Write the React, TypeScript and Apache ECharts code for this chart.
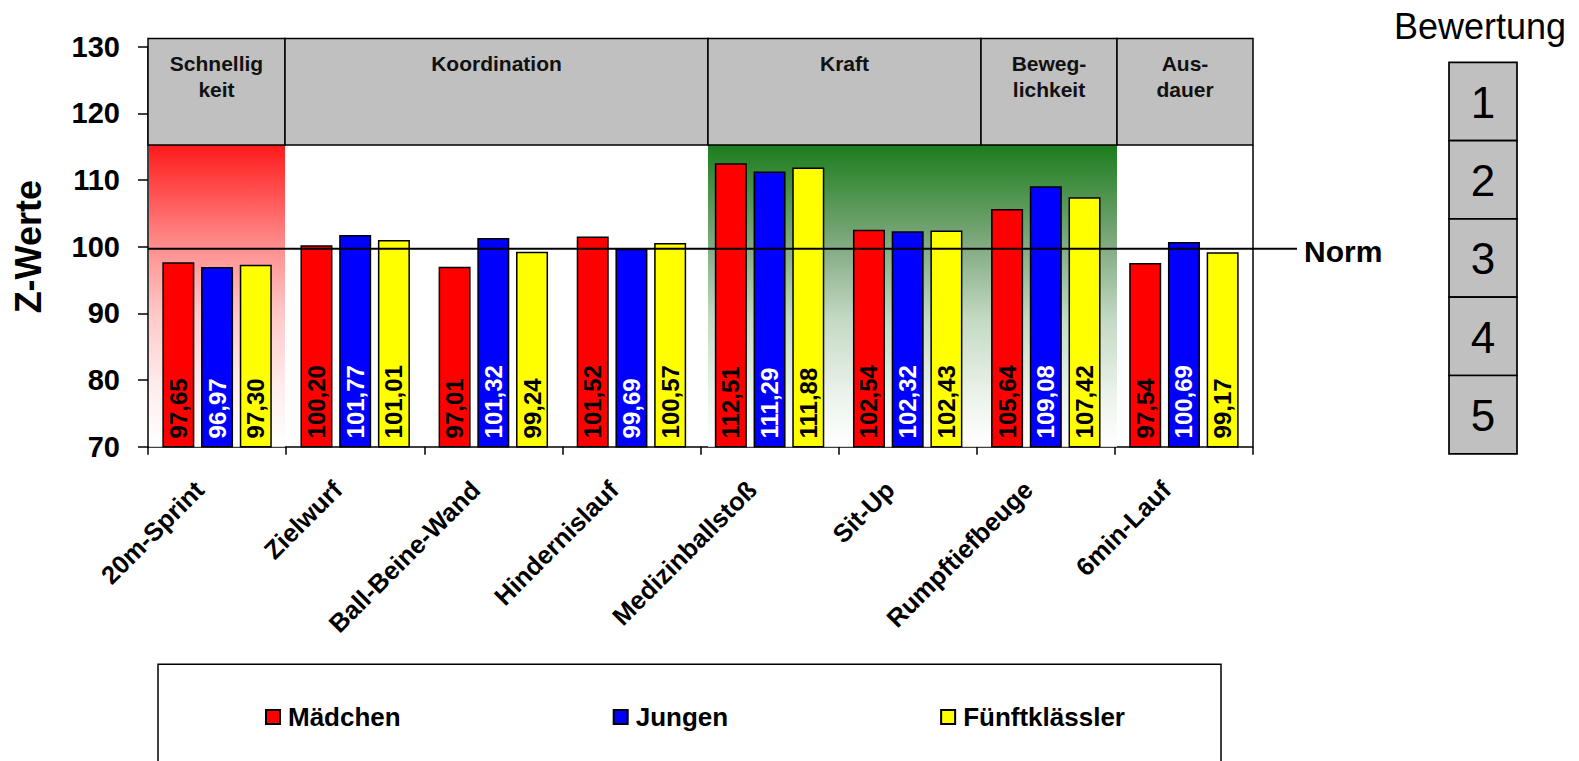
import React, { useEffect, useRef } from "react";
import * as echarts from "echarts";

const categories = [
  "20m-Sprint",
  "Zielwurf",
  "Ball-Beine-Wand",
  "Hindernislauf",
  "Medizinballstoß",
  "Sit-Up",
  "Rumpftiefbeuge",
  "6min-Lauf",
];
const seriesNames = ["Mädchen", "Jungen", "Fünftklässler"];
const maedchen = [97.65, 100.2, 97.01, 101.52, 112.51, 102.54, 105.64, 97.54];
const jungen = [96.97, 101.77, 101.32, 99.69, 111.29, 102.32, 109.08, 100.69];
const fuenftklaessler = [97.3, 101.01, 99.24, 100.57, 111.88, 102.43, 107.42, 99.17];
const yMin = 70;
const yMax = 130;
const yInterval = 10;
const normValue = 100;
const normLabel = "Norm";
const groupLabels = ["Schnellig\nkeit", "Koordination", "Kraft", "Beweg-\nlichkeit", "Aus-\ndauer"];
const bewertungTitle = "Bewertung";
const bewertungLevels = ["1", "2", "3", "4", "5"];

const FONT = "'Liberation Sans', Arial, Helvetica, sans-serif";
const barColors = ["#ff0000", "#0000ff", "#ffff00"];
const labelColors = ["#000000", "#ffffff", "#000000"];

// layout of the overlay (pixels)
const groupEdges = [148, 285, 708, 981, 1117, 1253];
const headerTop = 38.5;
const headerBottom = 145;

function fmt(v: number) {
  return v.toFixed(2).replace(".", ",");
}

export default function App() {
  const ref = useRef<HTMLDivElement>(null);
  useEffect(() => {
    if (!ref.current) return;
    const chart = echarts.init(ref.current, undefined, { renderer: "svg" });
    const data = [maedchen, jungen, fuenftklaessler];
    const option: any = {
      animation: false,
      backgroundColor: "#ffffff",
      textStyle: { fontFamily: FONT },
      grid: { left: 148, top: 46.7, width: 1105, height: 400, containLabel: false },
      legend: {
        data: seriesNames,
        left: 265,
        top: 702,
        padding: 0,
        itemWidth: 14,
        itemHeight: 14,
        itemGap: 212,
        icon: "rect",
        textStyle: { fontFamily: FONT, fontSize: 26, fontWeight: "bold", color: "#000", lineHeight: 30, padding: [0, 0, 0, 3] },
      },
      xAxis: {
        type: "category",
        data: categories,
        axisLine: { lineStyle: { color: "#000", width: 1.5 } },
        axisTick: { show: true, length: 8, lineStyle: { color: "#000", width: 1.5 } },
        axisLabel: {
          interval: 0,
          rotate: 45,
          margin: 21,
          padding: [0, 25, 0, 0],
          fontFamily: FONT,
          fontSize: 25.5,
          fontWeight: "bold",
          color: "#000",
        },
        splitLine: { show: false },
      },
      yAxis: {
        type: "value",
        min: yMin,
        max: yMax,
        interval: yInterval,
        name: "Z-Werte",
        nameLocation: "middle",
        nameGap: 102,
        nameTextStyle: { fontFamily: FONT, fontSize: 36, fontWeight: "bold", color: "#000" },
        axisLine: { show: true, lineStyle: { color: "#000", width: 1.5 } },
        axisTick: { show: true, length: 10, lineStyle: { color: "#000", width: 1.5 } },
        axisLabel: { margin: 28, fontFamily: FONT, fontSize: 29, fontWeight: "bold", color: "#000" },
        splitLine: { show: false },
      },
      series: seriesNames.map((name, i) => ({
        name,
        type: "bar",
        data: data[i],
        barWidth: 32,
        barGap: "21%",
        z: 5,
        itemStyle: { color: barColors[i], borderColor: "#000", borderWidth: 1.5 },
        label: {
          show: true,
          position: "insideBottom",
          rotate: 90,
          align: "left",
          verticalAlign: "middle",
          distance: 9,
          fontFamily: FONT,
          fontSize: 24,
          fontWeight: "bold",
          color: labelColors[i],
          formatter: (p: any) => fmt(p.value),
        },
      })),
    };
    chart.setOption(option);

    const axisBottom = chart.convertToPixel({ yAxisIndex: 0 }, yMin) as number;
    const normY = (chart.convertToPixel({ yAxisIndex: 0 }, normValue) as number) + 2;

    const graphics: any[] = [];
    // gradient backgrounds
    graphics.push({
      type: "rect",
      z: 1,
      shape: { x: 149, y: headerBottom, width: groupEdges[1] - 149, height: axisBottom - headerBottom },
      style: {
        fill: new echarts.graphic.LinearGradient(0, 0, 0, 1, [
          { offset: 0, color: "rgb(255,26,26)" },
          { offset: 0.33, color: "rgb(255,140,140)" },
          { offset: 0.56, color: "rgb(255,200,200)" },
          { offset: 0.8, color: "rgb(255,236,236)" },
          { offset: 1, color: "rgb(255,255,255)" },
        ]),
      },
    });
    graphics.push({
      type: "rect",
      z: 1,
      shape: { x: groupEdges[2], y: headerBottom, width: groupEdges[4] - groupEdges[2], height: axisBottom - headerBottom },
      style: {
        fill: new echarts.graphic.LinearGradient(0, 0, 0, 1, [
          { offset: 0, color: "rgb(28,125,28)" },
          { offset: 0.33, color: "rgb(128,170,128)" },
          { offset: 0.58, color: "rgb(196,218,196)" },
          { offset: 0.82, color: "rgb(234,242,234)" },
          { offset: 1, color: "rgb(255,255,255)" },
        ]),
      },
    });
    // header cells
    groupLabels.forEach((lab, i) => {
      const x0 = groupEdges[i];
      const x1 = groupEdges[i + 1];
      graphics.push({
        type: "rect",
        z: 10,
        shape: { x: x0, y: headerTop, width: x1 - x0, height: headerBottom - headerTop },
        style: { fill: "#c0c0c0", stroke: "#000", lineWidth: 1.5 },
      });
      graphics.push({
        type: "text",
        z: 11,
        x: (x0 + x1) / 2,
        y: 50,
        style: {
          text: lab,
          fontFamily: FONT,
          fontSize: 21,
          fontWeight: "bold",
          fill: "#111",
          align: "center",
          verticalAlign: "top",
          lineHeight: 26,
        },
      });
    });
    // right border of plot
    graphics.push({
      type: "line",
      z: 10,
      shape: { x1: 1253, y1: headerBottom, x2: 1253, y2: axisBottom },
      style: { stroke: "#000", lineWidth: 1.5 },
    });
    // norm line
    graphics.push({
      type: "line",
      z: 12,
      shape: { x1: 148, y1: normY, x2: 1297, y2: normY },
      style: { stroke: "#000", lineWidth: 2 },
    });
    graphics.push({
      type: "text",
      z: 12,
      x: 1304,
      y: normY + 3,
      style: { text: normLabel, fontFamily: FONT, fontSize: 30, fontWeight: "bold", fill: "#000", align: "left", verticalAlign: "middle" },
    });
    // Bewertung
    graphics.push({
      type: "text",
      z: 12,
      x: 1480,
      y: 26,
      style: { text: bewertungTitle, fontFamily: FONT, fontSize: 36, fontWeight: "normal", fill: "#000", align: "center", verticalAlign: "middle" },
    });
    bewertungLevels.forEach((lv, i) => {
      const y0 = 62.3 + i * 78.3;
      graphics.push({
        type: "rect",
        z: 12,
        shape: { x: 1449, y: y0, width: 68, height: 78.3 },
        style: { fill: "#c0c0c0", stroke: "#000", lineWidth: 1.7 },
      });
      graphics.push({
        type: "text",
        z: 13,
        x: 1483,
        y: y0 + 40,
        style: { text: lv, fontFamily: FONT, fontSize: 44, fontWeight: "normal", fill: "#000", align: "center", verticalAlign: "middle" },
      });
    });
    // legend frame
    graphics.push({
      type: "rect",
      z: 0,
      shape: { x: 158, y: 664.3, width: 1063, height: 140 },
      style: { fill: "none", stroke: "#000", lineWidth: 1.5 },
    });

    chart.setOption({ graphic: { elements: graphics } });

    return () => chart.dispose();
  }, []);

  return (
    <div
      ref={ref}
      style={{ position: "fixed", left: 0, top: 0, width: 1579, height: 761, background: "#fff" }}
    />
  );
}
